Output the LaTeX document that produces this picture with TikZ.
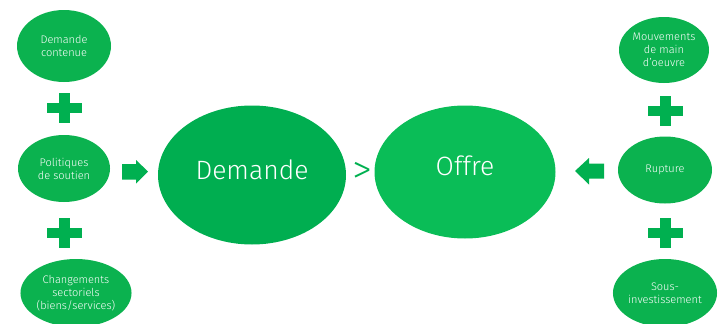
\documentclass[tikz,border=0pt]{standalone}
\usepackage{fontspec}
\setmainfont{Fira Sans Light}
\usetikzlibrary{shapes.geometric}
\definecolor{gsmall}{HTML}{0BB24F}
\definecolor{gdem}{HTML}{00AE50}
\definecolor{goff}{HTML}{0ABD57}
\definecolor{gsym}{HTML}{00B050}
\tikzset{
  smallell/.style={ellipse, fill=gsmall, text=white, inner sep=0pt, font=\fontsize{11}{13}\selectfont, align=center},
  bigell/.style={ellipse, inner sep=0pt, text=white, font=\fontsize{26.5}{30}\selectfont},
}
\begin{document}
\begin{tikzpicture}[x=1pt,y=-1pt]
\useasboundingbox (0,0) rectangle (718,324);
% left column
\node[smallell, minimum width=94, minimum height=72] (dc) at (64,46) {Demande\\contenue};
\node[smallell, minimum width=92, minimum height=67] (ps) at (64,168.5) {Politiques\\de soutien};
\node[smallell, minimum width=111, minimum height=68] (cs) at (76,293) {Changements\\sectoriels\\(biens/services)};
% right column
\node[smallell, minimum width=90, minimum height=66] (mm) at (664,50) {Mouvements\\de main\\d'oeuvre};
\node[smallell, minimum width=94, minimum height=67] (ru) at (665,170) {Rupture};
\node[smallell, minimum width=94, minimum height=68] (si) at (665,293) {Sous-\\investissement};
% big ellipses
\node[bigell, fill=gdem, minimum width=188, minimum height=139] (dem) at (252,175) {};
\node[text=white, font=\fontsize{26.5}{30}\selectfont, inner sep=0pt] (demt) at (252,170) {Demande};
\node[bigell, fill=goff, minimum width=181, minimum height=133] (off) at (465,172) {};
\node[text=white, font=\fontsize{26.5}{30}\selectfont, inner sep=0pt] (offt) at (465,166) {Offre};
\node[text=gsym, font=\fontsize{40}{44}\selectfont, inner sep=0pt] (gt) at (362,172.5) {>};
% plus signs
\foreach \n/\cx/\cy in {p1/64.5/108, p2/64.5/233, p3/665/111, p4/665/233}{
  \coordinate (\n) at (\cx,\cy);
  \fill[gsym] ([xshift=-5.5,yshift=-15]\n) rectangle ([xshift=5.5,yshift=15]\n);
  \fill[gsym] ([xshift=-17.5,yshift=-5]\n) rectangle ([xshift=17.5,yshift=5]\n);
}
% block arrows
\coordinate (ra) at (122,171.5);
\fill[gsym] (ra) ++(0,-7.5) -- ++(14,0) -- ++(0,-4) -- ++(12,11.5) -- ++(-12,12) -- ++(0,-4) -- ++(-14,0) -- cycle;
\coordinate (la) at (604,171);
\fill[gsym] (la) ++(0,-7.5) -- ++(-15,0) -- ++(0,-5.5) -- ++(-14,13) -- ++(14,13.5) -- ++(0,-6) -- ++(15,0) -- cycle;
\end{tikzpicture}
\end{document}
